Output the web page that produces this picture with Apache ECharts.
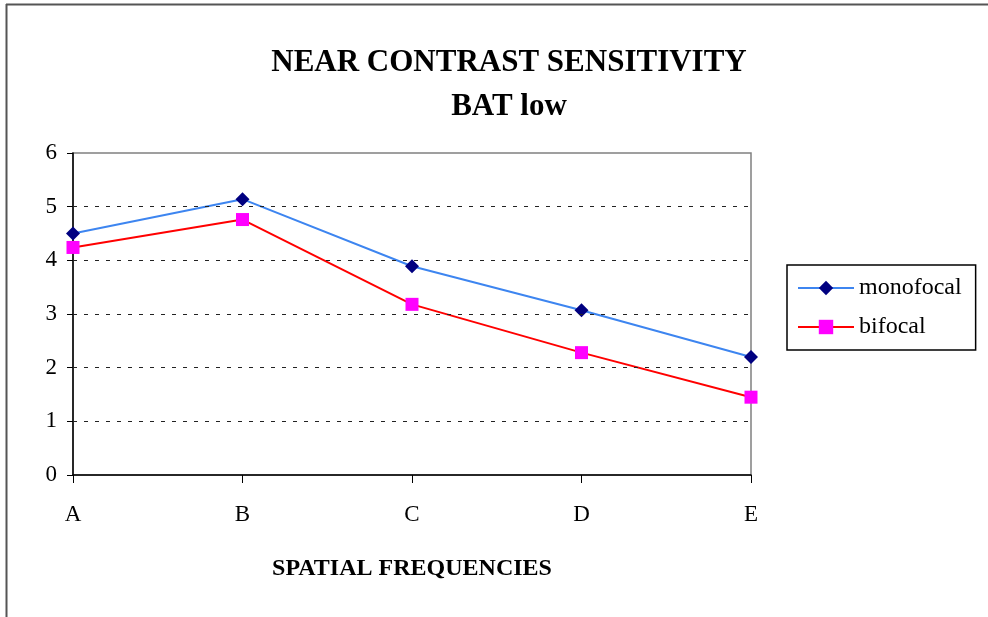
<!DOCTYPE html>
<html><head><meta charset="utf-8">
<script src="https://cdn.jsdelivr.net/npm/echarts@6/dist/echarts.min.js"></script>
<style>html,body{margin:0;padding:0;background:#fff}#c{width:988px;height:617px}</style>
</head><body><div id="c"></div>
<script>
var categories = ['A','B','C','D','E'];
var monofocal = [4.50, 5.14, 3.89, 3.07, 2.20];
var bifocal = [4.24, 4.76, 3.18, 2.28, 1.45];
var yTicks = [0, 1, 2, 3, 4, 5, 6];
var gridValues = [1, 2, 3, 4, 5];
var serif = "'Liberation Serif','Times New Roman',serif";
var chart = echarts.init(document.getElementById('c'));
chart.setOption({
  animation: false,
  backgroundColor: '#fff',
  title: {
    text: 'NEAR CONTRAST SENSITIVITY\nBAT low',
    left: 504, top: 36, textAlign: 'center',
    textStyle: {fontFamily: serif, fontWeight: 'bold', fontSize: 31, color: '#000', lineHeight: 44}
  },
  graphic: [
    {type: 'line', shape: {x1: 6, y1: 4.5, x2: 988, y2: 4.5}, style: {stroke: '#555', lineWidth: 2}},
    {type: 'line', shape: {x1: 6.5, y1: 4, x2: 6.5, y2: 617}, style: {stroke: '#555', lineWidth: 2}}
  ],
  grid: {left: 73, right: 237, top: 153, bottom: 142, show: true, borderColor: '#808080', borderWidth: 1.5, backgroundColor: 'transparent'},
  legend: {
    orient: 'vertical', left: 787, top: 265,
    padding: [11, 14, 11, 10], itemGap: 15,
    borderColor: '#000', borderWidth: 1.5,
    itemWidth: 56, itemHeight: 18,
    textStyle: {fontFamily: serif, fontSize: 24, color: '#000'},
    data: ['monofocal', 'bifocal']
  },
  xAxis: {
    type: 'category', data: categories, boundaryGap: false,
    name: 'SPATIAL FREQUENCIES', nameLocation: 'middle', nameGap: 82,
    nameTextStyle: {fontFamily: serif, fontWeight: 'bold', fontSize: 24, color: '#000'},
    axisLine: {lineStyle: {color: '#000', width: 1.5}},
    axisTick: {show: true, length: 8, lineStyle: {color: '#000'}},
    axisLabel: {fontFamily: serif, fontSize: 23, color: '#000', margin: 28}
  },
  yAxis: {
    type: 'value', min: yTicks[0], max: yTicks[yTicks.length - 1], interval: 1,
    axisLine: {show: true, lineStyle: {color: '#000', width: 1.5}},
    axisTick: {show: true, length: 6, lineStyle: {color: '#000'}},
    axisLabel: {fontFamily: serif, fontSize: 23, color: '#000', margin: 16},
    splitLine: {show: false}
  },
  series: [
    {name: 'monofocal', type: 'line', data: monofocal, symbol: 'diamond', symbolSize: 14, z: 3,
     lineStyle: {color: '#3d85f0', width: 2}, itemStyle: {color: '#000080'},
     markLine: {silent: true, symbol: 'none', label: {show: false},
       lineStyle: {color: '#222', type: [4, 7], width: 1},
       data: gridValues.map(function (v) { return {yAxis: v}; })}},
    {name: 'bifocal', type: 'line', data: bifocal, symbol: 'rect', symbolSize: 13, z: 4,
     lineStyle: {color: '#ff0000', width: 2}, itemStyle: {color: '#ff00ff'}}
  ]
});
</script></body></html>
